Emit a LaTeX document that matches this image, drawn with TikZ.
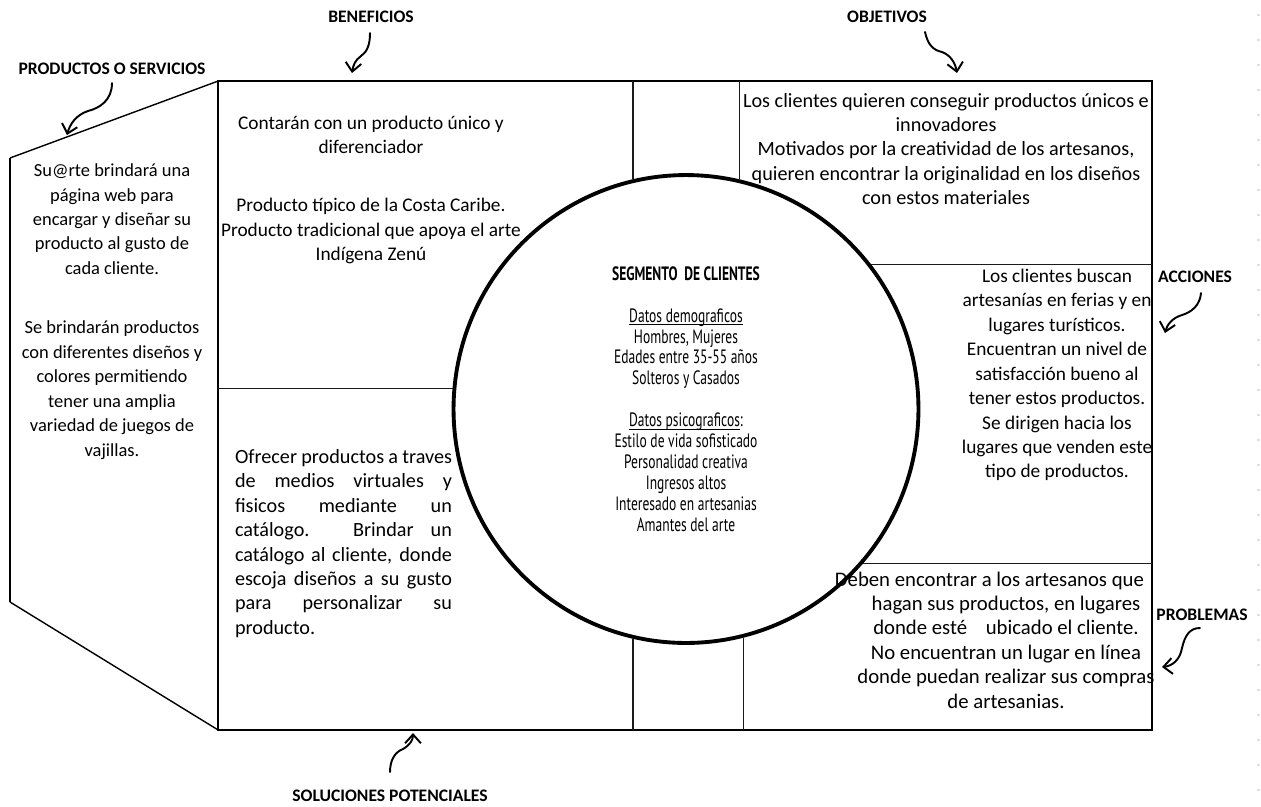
\documentclass[tikz,border=0pt]{standalone}
\usepackage{fontspec}
\setmainfont{Carlito}
\newfontfamily\agency[FakeStretch=0.7]{PT Sans}
\usepackage{xcolor}
\usepackage{tikz}
\usetikzlibrary{arrows.meta,shapes.geometric}
\definecolor{ink}{HTML}{000000}
\definecolor{rule}{HTML}{1A1A1A}
\definecolor{tickc}{HTML}{E0E0E0}
\tikzset{
  base/.style={draw=ink, line width=0.8pt},
  edge/.style={draw=ink, line width=1.4pt},
  divl/.style={draw=rule, line width=0.6pt},
  ell/.style={ellipse, draw=ink, line width=2.2pt, minimum width=9.3cm, minimum height=9.36cm, inner sep=0pt},
  frm/.style={draw=ink, line width=0.8pt, minimum width=18.68cm, minimum height=12.98cm, inner sep=0pt, outer sep=0pt},
  txt/.style={font=\fontsize{#1}{13.9}\selectfont, align=center, inner sep=0pt},
  txt/.default=11.5,
  head/.style={font=\fontsize{10}{12}\selectfont\bfseries, inner sep=0pt},
  segt/.style={font=\agency\fontsize{11}{11.9}\selectfont, align=center, inner sep=0pt},
  curl/.style={draw=ink, line width=1.1pt, line cap=round, -{Straight Barb[length=5pt,width=9pt]}},
  tick/.style={draw=tickc, line width=0.6pt},
}
\newcommand{\jline}[1]{\makebox[4.34cm][s]{#1}}
\newcommand{\uln}[1]{\setbox0\hbox{#1}\rlap{\rule[-1.6pt]{\wd0}{0.45pt}}\box0}

\begin{document}
\begin{tikzpicture}[x=0.02cm, y=-0.02cm]
  \useasboundingbox (0,0) rectangle (1261,806);

  % frame, side panel and segment ellipse
  \node[frm] (frame) at (685,405.5) {};
  \coordinate (pnlTop) at (10,158);
  \coordinate (pnlBot) at (10,602);
  \draw[base] (frame.north west) -- (pnlTop);
  \draw[base] (pnlBot) -- (frame.south west);
  \draw[edge] (pnlTop) -- (pnlBot);
  \node[ell] (seg) at (686,409) {};

  \draw[divl] (seg.103) -- (seg.103 |- frame.north);
  \draw[divl] (seg.77) -- (seg.77 |- frame.north);
  \draw[divl] (seg.257) -- (seg.257 |- frame.south);
  \draw[divl] (seg.284) -- (seg.284 |- frame.south);
  \draw[divl] (seg.38.9) -- (seg.38.9 -| frame.east);
  \draw[divl] (seg.319.9) -- (seg.319.9 -| frame.east);
  \draw[divl] (seg.175.4) -- (seg.175.4 -| frame.west);

  % texts
  \node[txt=10.5] (prodTxt) at (112,311.5) {Su@rte brindará una\\página web para\\encargar y diseñar su\\producto al gusto de\\cada cliente.\\[20pt]Se brindarán productos\\con diferentes diseños y\\colores permitiendo\\tener una amplia\\variedad de juegos de\\vajillas.};
  \node[txt=11] (benTxt) at (371,190) {Contarán con un producto único y\\diferenciador\\[19pt]Producto típico de la Costa Caribe.\\Producto tradicional que apoya el arte\\Indígena Zenú};
  \node[txt, align=left] (solTxt) at (343.5,543.5) {\jline{Ofrecer productos a traves}\\\jline{de medios virtuales y}\\\jline{fisicos mediante un}\\\jline{catálogo. Brindar un}\\\jline{catálogo al cliente, donde}\\\jline{escoja diseños a su gusto}\\\jline{para personalizar su}\\producto.};
  \node[txt] (objTxt) at (946,149) {Los clientes quieren conseguir productos únicos e\\innovadores\\Motivados por la creatividad de los artesanos,\\quieren encontrar la originalidad en los diseños\\con estos materiales};
  \node[txt=11] (accTxt) at (1057,375) {Los clientes buscan\\artesanías en ferias y en\\lugares turísticos.\\Encuentran un nivel de\\satisfacción bueno al\\tener estos productos.\\Se dirigen hacia los\\lugares que venden este\\tipo de productos.};
  \node[txt=11.8] (probTxt) at (1006,640) {Deben encontrar a los artesanos que\hspace*{1.6em}\\hagan sus productos, en lugares\\donde esté\ \ \ \ ubicado el cliente.\\No encuentran un lugar en línea\\donde puedan realizar sus compras\\de artesanias.};
  \node[segt] (segTxt) at (686,399) {{\bfseries SEGMENTO\ \ DE CLIENTES}\\[11.9pt]\uln{Datos demograficos}\\Hombres, Mujeres\\Edades entre 35-55 años\\Solteros y Casados\\[11.9pt]\uln{Datos psicograficos}:\\Estilo de vida sofisticado\\Personalidad creativa\\Ingresos altos\\Interesado en artesanias\\Amantes del arte};

  % headings
  \node[head] (hProd) at (112,69) {PRODUCTOS O SERVICIOS};
  \node[head] (hBen) at (371,17) {BENEFICIOS};
  \node[head] (hObj) at (887,17) {OBJETIVOS};
  \node[head] (hAcc) at (1195,277) {ACCIONES};
  \node[head] (hProb) at (1202,615) {PROBLEMAS};
  \node[head] (hSol) at (390,796) {SOLUCIONES POTENCIALES};

  % curly pointers
  \coordinate (prodA) at (112,83);  \coordinate (prodB) at (67,135);
  \coordinate (benA) at (370,33);   \coordinate (benB) at (352,73);
  \coordinate (objA) at (925,32);   \coordinate (objB) at (957,73);
  \coordinate (accA) at (1201,293); \coordinate (accB) at (1165,333);
  \coordinate (probA) at (1200,628); \coordinate (probB) at (1162,667);
  \coordinate (solA) at (390,772);  \coordinate (solB) at (413,733);
  \draw[curl] (prodA) .. controls (112,100) and (100,108) .. (88,111) .. controls (76,115) and (70,124) .. (prodB);
  \draw[curl] (benA) .. controls (370,45) and (367,52) .. (361,56) .. controls (355,60) and (353,66) .. (benB);
  \draw[curl] (objA) .. controls (928,45) and (933,50) .. (942,52) .. controls (950,55) and (955,62) .. (objB);
  \draw[curl] (accA) .. controls (1200,305) and (1192,312) .. (1182,315) .. controls (1172,318) and (1167,325) .. (accB);
  \draw[curl] (probA) .. controls (1190,628) and (1185,635) .. (1182,648) .. controls (1180,660) and (1172,666) .. (probB);
  \draw[curl] (solA) .. controls (390,760) and (395,752) .. (403,749) .. controls (410,745) and (413,740) .. (solB);

  % page edge ticks
  \foreach \y in {15,40,...,790}
    \draw[tick] (1257,\y) -- (1260,\y);
\end{tikzpicture}
\end{document}
